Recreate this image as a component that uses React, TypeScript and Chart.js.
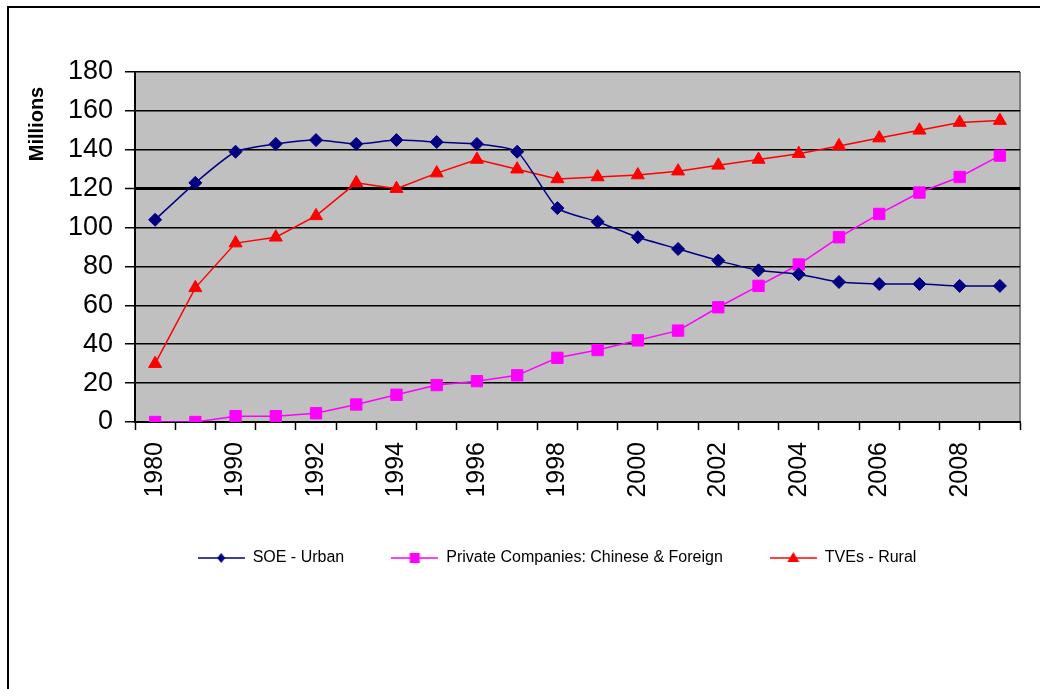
import React, { useEffect, useRef } from "react";
import { Chart, registerables } from "chart.js";

Chart.register(...registerables);

const categories = [
  "1980", "1985", "1990", "1991", "1992", "1993", "1994", "1995", "1996", "1997", "1998",
  "1999", "2000", "2001", "2002", "2003", "2004", "2005", "2006", "2007", "2008", "2009",
];

const soeUrban = [104, 123, 139, 143, 145, 143, 145, 144, 143, 139, 110, 103, 95, 89, 83, 78, 76, 72, 71, 71, 70, 70];
const privateCompanies = [0, 0, 3, 3, 4.5, 9, 14, 19, 21, 24, 33, 37, 42, 47, 59, 70, 81, 95, 107, 118, 126, 137];
const tvesRural = [30, 69, 92, 95, 106, 123, 120, 128, 135, 130, 125, 126, 127, 129, 132, 135, 138, 142, 146, 150, 154, 155];

const yTicks = [0, 20, 40, 60, 80, 100, 120, 140, 160, 180];

const yTitle = "Millions";
const seriesLabels = ["SOE - Urban", "Private Companies: Chinese & Foreign", "TVEs - Rural"];
const seriesColors = ["#000080", "#FF00FF", "#FF0000"];
const seriesMarkers = ["rectRot", "rect", "triangle"];

const FONT = "'Liberation Sans', Arial, sans-serif";

function makeLegendIcon(color: string, marker: string): HTMLCanvasElement {
  const c = document.createElement("canvas");
  c.width = 47;
  c.height = 14;
  const ctx = c.getContext("2d")!;
  ctx.strokeStyle = color;
  ctx.fillStyle = color;
  ctx.lineWidth = 1.5;
  ctx.beginPath();
  ctx.moveTo(0, 7);
  ctx.lineTo(47, 7);
  ctx.stroke();
  const cx = 23.5, cy = 7;
  ctx.beginPath();
  if (marker === "rectRot") {
    ctx.moveTo(cx, cy - 5);
    ctx.lineTo(cx + 4, cy);
    ctx.lineTo(cx, cy + 5);
    ctx.lineTo(cx - 4, cy);
  } else if (marker === "rect") {
    ctx.rect(cx - 5, cy - 5, 10, 10);
  } else {
    ctx.moveTo(cx, cy - 6);
    ctx.lineTo(cx + 6, cy + 4);
    ctx.lineTo(cx - 6, cy + 4);
  }
  ctx.closePath();
  ctx.fill();
  return c;
}

const plotBackground = {
  id: "plotBackground",
  beforeDraw(chart: any) {
    const { ctx, chartArea } = chart;
    if (!chartArea) return;
    ctx.save();
    ctx.fillStyle = "#C0C0C0";
    ctx.fillRect(chartArea.left, chartArea.top, chartArea.right - chartArea.left, chartArea.bottom - chartArea.top);
    ctx.strokeStyle = "#808080";
    ctx.lineWidth = 2;
    ctx.beginPath();
    ctx.moveTo(chartArea.right, chartArea.top);
    ctx.lineTo(chartArea.right, chartArea.bottom);
    ctx.stroke();
    ctx.restore();
  },
  afterDraw(chart: any) {
    const { ctx } = chart;
    ctx.save();
    ctx.translate(37, 124);
    ctx.rotate(-Math.PI / 2);
    ctx.font = `bold 20px ${FONT}`;
    ctx.fillStyle = "#000";
    ctx.textAlign = "center";
    ctx.textBaseline = "middle";
    ctx.fillText(yTitle, 0, 0);
    ctx.restore();
  },
};

export default function App() {
  const canvasRef = useRef<HTMLCanvasElement | null>(null);

  useEffect(() => {
    const canvas = canvasRef.current;
    if (!canvas) return;
    const icons = seriesColors.map((c, i) => makeLegendIcon(c, seriesMarkers[i]));
    const seriesData = [soeUrban, privateCompanies, tvesRural];
    const radii = [6.5, 8, 7.5];

    const chart = new Chart(canvas, {
      type: "line",
      data: {
        labels: categories,
        datasets: seriesData.map((d, i) => ({
          label: seriesLabels[i],
          data: d,
          borderColor: seriesColors[i],
          backgroundColor: seriesColors[i],
          borderWidth: 1.5,
          pointStyle: seriesMarkers[i] as any,
          pointRadius: radii[i],
          pointBorderWidth: 1,
          pointBackgroundColor: seriesColors[i],
          pointBorderColor: seriesColors[i],
          tension: i === 0 ? 0.2 : 0,
          yAxisID: "y",
        })),
      },
      options: {
        responsive: false,
        animation: false,
        layout: { padding: { top: 72, bottom: 113, left: 0, right: 0 } },
        plugins: {
          tooltip: { enabled: false },
          legend: {
            position: "bottom",
            labels: {
              usePointStyle: true,
              pointStyleWidth: 47,
              padding: 47,
              color: "#000",
              font: { family: FONT, size: 16 },
              generateLabels: (ch: any) =>
                ch.data.datasets.map((ds: any, i: number) => ({
                  text: ds.label,
                  pointStyle: icons[i],
                  fillStyle: seriesColors[i],
                  strokeStyle: seriesColors[i],
                  lineWidth: 0,
                  hidden: false,
                  datasetIndex: i,
                  fontColor: "#000",
                })),
            },
          },
        },
        scales: {
          x: {
            type: "category",
            offset: true,
            grid: {
              offset: true,
              drawOnChartArea: false,
              drawTicks: true,
              tickLength: 8,
              tickColor: "#000",
              tickWidth: 1.5,
            },
            border: { display: true, color: "#000", width: 2 },
            ticks: {
              autoSkip: false,
              minRotation: 90,
              maxRotation: 90,
              padding: 12,
              color: "#000",
              font: { family: FONT, size: 25 },
              callback: (_v: any, i: number) => (i % 2 === 0 ? categories[i] : ""),
            },
            afterFit: (s: any) => {
              s.height = 81;
            },
          },
          y: {
            type: "linear",
            position: "left",
            min: 0,
            max: 180,
            afterBuildTicks: (s: any) => {
              s.ticks = yTicks.map((v) => ({ value: v }));
            },
            grid: {
              color: "#000",
              lineWidth: (c: any) => (c.tick && c.tick.value === 120 ? 3 : 1.5),
              drawTicks: true,
              tickLength: 10,
              tickColor: "#000",
              tickWidth: 1.5,
            },
            border: { display: true, color: "#000", width: 2 },
            ticks: {
              padding: 12,
              color: "#000",
              font: { family: FONT, size: 27 },
            },
            afterFit: (s: any) => {
              s.width = 135;
            },
          },
          yRight: {
            type: "linear",
            position: "right",
            display: true,
            grid: { display: false, drawTicks: false },
            border: { display: false },
            ticks: { display: false },
            afterFit: (s: any) => {
              s.width = 94;
            },
          },
        },
      } as any,
      plugins: [plotBackground],
    });
    return () => chart.destroy();
  }, []);

  return (
    <div
      style={{
        position: "fixed",
        left: 0,
        top: 0,
        width: 1040,
        height: 689,
        overflow: "hidden",
        background: "#fff",
      }}
    >
      <div
        style={{
          position: "absolute",
          left: 7,
          top: 6,
          width: 1200,
          height: 900,
          borderLeft: "2px solid #000",
          borderTop: "2px solid #000",
        }}
      />
      <canvas
        ref={canvasRef}
        width={1114}
        height={689}
        style={{ position: "absolute", left: 0, top: 0, width: 1114, height: 689 }}
      />
    </div>
  );
}
